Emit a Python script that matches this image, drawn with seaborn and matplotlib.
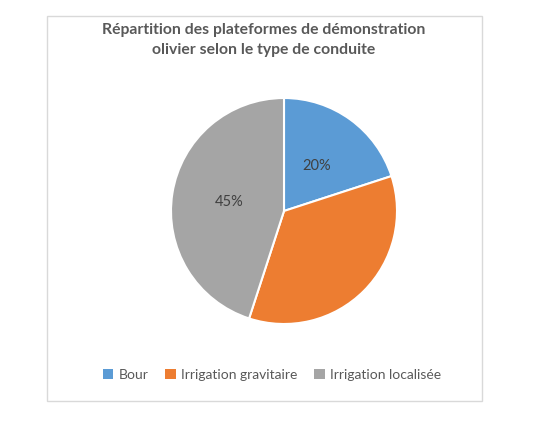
import matplotlib
matplotlib.use("Agg")
import matplotlib.pyplot as plt
from matplotlib.patches import Rectangle, Patch
import numpy as np
import seaborn as sns

# data
categories = ["Bour", "Irrigation gravitaire", "Irrigation localisée"]
shares = [20, 35, 45]
shown_labels = ["20%", "", "45%"]
title = "Répartition des plateformes de démonstration\nolivier selon le type de conduite"

sns.set_theme(style="white")
plt.rcParams["font.family"] = ["Lato", "DejaVu Sans"]
colors = ["#5B9BD5", "#ED7D31", "#A5A5A5"]
txt = "#595959"

W, H = 560, 424
fig = plt.figure(figsize=(W / 100, H / 100), dpi=100)
fig.patch.set_facecolor("white")

# chart border
fig.add_artist(Rectangle((47 / W, 23 / H), 435 / W, 385 / H, transform=fig.transFigure,
                         fill=False, edgecolor="#D9D9D9", linewidth=1))

cx, cy, r = 284, H - 211, 113
ax = fig.add_axes([(cx - r) / W, (cy - r) / H, 2 * r / W, 2 * r / H])
wedges, texts = ax.pie(shares, colors=colors, startangle=90, counterclock=False,
                       wedgeprops=dict(edgecolor="white", linewidth=1.5))
for w, lab in zip(wedges, shown_labels):
    ang = np.deg2rad((w.theta1 + w.theta2) / 2)
    if lab:
        ax.text(0.49 * np.cos(ang), 0.49 * np.sin(ang), lab, ha="center", va="center",
                fontsize=10.5, color="#404040")
ax.set_xlim(-1, 1)
ax.set_ylim(-1, 1)
ax.set_aspect("equal")
ax.axis("off")

fig.text(264 / W, 1 - 40 / H, title, ha="center", va="center", fontsize=11.3,
         fontweight="bold", color=txt, linespacing=1.55)

handles = [Patch(facecolor=c, edgecolor="none") for c in colors]
fig.legend(handles, categories, loc="center", bbox_to_anchor=(272 / W, 1 - 375 / H),
           ncol=3, frameon=False, fontsize=10, labelcolor=txt, handlelength=0.75,
           handleheight=0.75, handletextpad=0.4, columnspacing=1.2)

fig.savefig("out.png", dpi=100)
